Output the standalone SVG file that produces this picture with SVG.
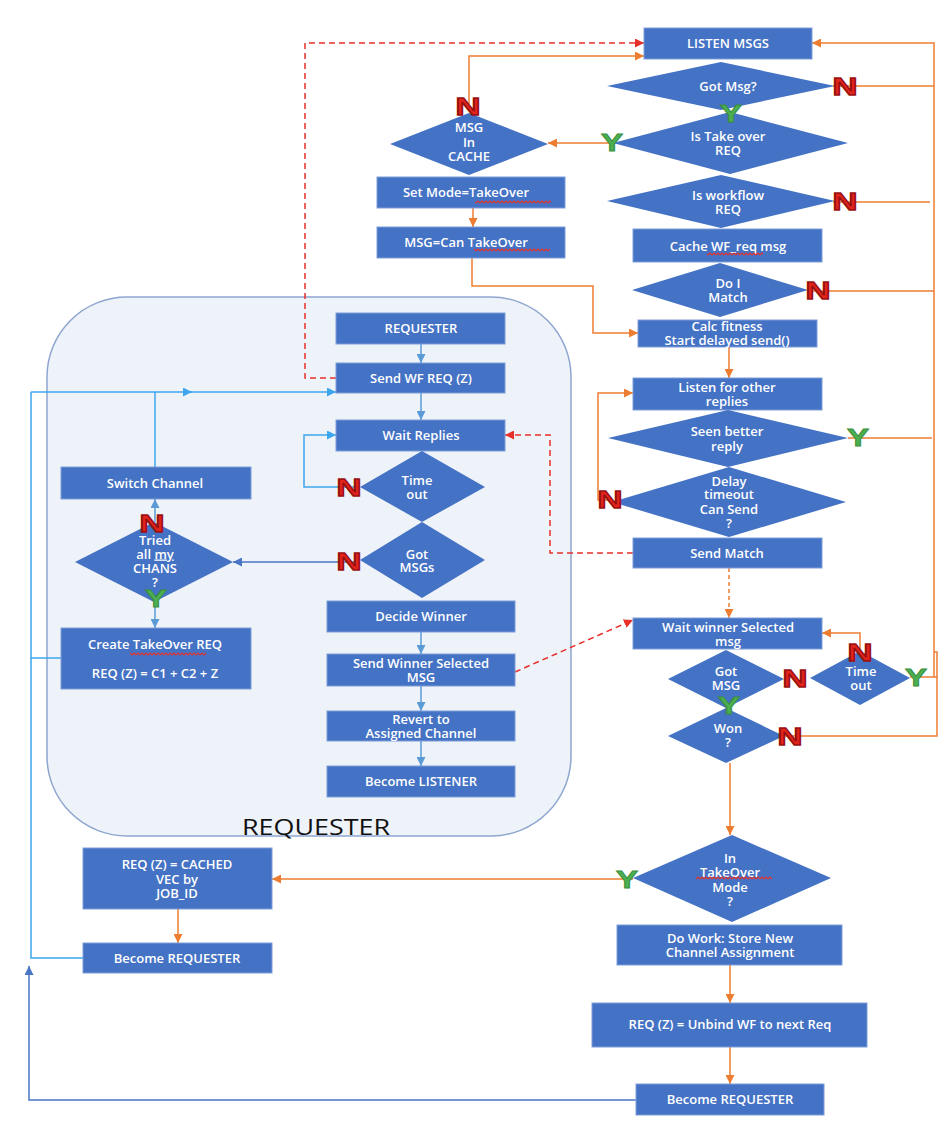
<svg xmlns="http://www.w3.org/2000/svg" width="943" height="1135" viewBox="0 0 943 1135">
<defs>
<style>
.box{fill:#4472c4;stroke:#7f9ed8;stroke-width:1}
.dia{fill:#4472c4}
.t{font-family:"Open Sans","Liberation Sans",sans-serif;font-weight:600;font-size:13px;fill:#ffffff;text-anchor:middle}
.c{fill:none;stroke-width:1.5}
.or{stroke:#ed7d31}
.rd{stroke:#e8302a;stroke-dasharray:6 4}
.od{stroke:#ed7d31;stroke-dasharray:4 3}
.lb{stroke:#3ea6ec}
.sb{stroke:#5b9bd5}
.db{stroke:#4a74c4}
.N{font-family:"Liberation Sans",sans-serif;font-weight:bold;font-size:24px;fill:#e3241b;stroke:#981010;stroke-width:1.3;text-anchor:middle}
.Y{font-family:"Liberation Sans",sans-serif;font-weight:bold;font-size:24px;fill:#4caf50;stroke:#3b8f3e;stroke-width:0.9;text-anchor:middle}
.sq{fill:url(#wave)}
</style>
<pattern id="wave" patternUnits="userSpaceOnUse" x="0" y="0" width="4" height="4"><path d="M0 3 L2 1 L4 3" fill="none" stroke="#e8302a" stroke-width="1.1"/></pattern>
<marker id="ao" viewBox="0 0 10 10" refX="10" refY="5" markerWidth="9" markerHeight="9" markerUnits="userSpaceOnUse" orient="auto"><path d="M0 0 L10 5 L0 10 z" fill="#ed7d31"/></marker>
<marker id="ar" viewBox="0 0 10 10" refX="10" refY="5" markerWidth="9" markerHeight="9" markerUnits="userSpaceOnUse" orient="auto"><path d="M0 0 L10 5 L0 10 z" fill="#e8302a"/></marker>
<marker id="alb" viewBox="0 0 10 10" refX="10" refY="5" markerWidth="9" markerHeight="9" markerUnits="userSpaceOnUse" orient="auto"><path d="M0 0 L10 5 L0 10 z" fill="#3ea6ec"/></marker>
<marker id="asb" viewBox="0 0 10 10" refX="10" refY="5" markerWidth="9" markerHeight="9" markerUnits="userSpaceOnUse" orient="auto"><path d="M0 0 L10 5 L0 10 z" fill="#5b9bd5"/></marker>
<marker id="adb" viewBox="0 0 10 10" refX="10" refY="5" markerWidth="9" markerHeight="9" markerUnits="userSpaceOnUse" orient="auto"><path d="M0 0 L10 5 L0 10 z" fill="#4a74c4"/></marker>
</defs>
<rect width="943" height="1135" fill="#ffffff"/>

<g id="requester-container">
<rect x="47" y="297" width="524" height="539" rx="80" ry="80" fill="#eef2f9" stroke="#8ea6cf" stroke-width="1.5"/>
<text x="316" y="835" font-family="'Open Sans','Liberation Sans',sans-serif" font-size="21" fill="#111" text-anchor="middle" textLength="148" lengthAdjust="spacingAndGlyphs">REQUESTER</text>
</g>

<g id="connectors">
<path class="c rd" d="M336 378 H305 V43 H644" marker-end="url(#ar)"/>
<path class="c rd" d="M633 553 H550 V435 H505" marker-end="url(#ar)"/>
<path class="c rd" d="M515 672 L633 620" marker-end="url(#ar)"/>
<path class="c or" d="M469 104 V56 H644" marker-end="url(#ao)"/>
<path class="c or" d="M934 677 V43 H812" marker-end="url(#ao)"/>
<path class="c or" d="M833 86 H934"/>
<path class="c or" d="M833 202 H930"/>
<path class="c or" d="M808 291 H934"/>
<path class="c or" d="M848 438 H932"/>
<path class="c or" d="M910 677 H937"/>
<path class="c or" d="M934 652 H937 V736 H784"/>
<path class="c or" d="M613 143 H548" marker-end="url(#ao)"/>
<path class="c or" d="M473 208 V227" marker-end="url(#ao)"/>
<path class="c or" d="M472 258 V286 H593 V333 H638" marker-end="url(#ao)"/>
<path class="c or" d="M729 347 V378" marker-end="url(#ao)"/>
<path class="c or" d="M612 500 H598 V393 H633" marker-end="url(#ao)"/>
<path class="c od" d="M729 568 V618" marker-end="url(#ao)"/>
<path class="c or" d="M860 651 V633 H822" marker-end="url(#ao)"/>
<path class="c or" d="M730 763 V835" marker-end="url(#ao)"/>
<path class="c or" d="M633 879 H272" marker-end="url(#ao)"/>
<path class="c or" d="M730 965 V1003" marker-end="url(#ao)"/>
<path class="c or" d="M730 1047 V1084" marker-end="url(#ao)"/>
<path class="c or" d="M178 909 V943" marker-end="url(#ao)"/>
<path class="c sb" d="M421 344 V363" marker-end="url(#asb)"/>
<path class="c sb" d="M421 393 V420" marker-end="url(#asb)"/>
<path class="c sb" d="M421 632 V654" marker-end="url(#asb)"/>
<path class="c sb" d="M421 686 V711" marker-end="url(#asb)"/>
<path class="c sb" d="M421 741 V766" marker-end="url(#asb)"/>
<path class="c lb" d="M360 487 H304 V435 H336" marker-end="url(#alb)"/>
<path class="c db" d="M360 562 H233" marker-end="url(#adb)"/>
<path class="c sb" d="M155 522 V499" marker-end="url(#asb)"/>
<path class="c sb" d="M155 602 V628" marker-end="url(#asb)"/>
<path class="c lb" d="M155 467 V392"/>
<path class="c lb" d="M31 392 H192" marker-end="url(#alb)"/>
<path class="c lb" d="M190 392 H336" marker-end="url(#alb)"/>
<path class="c lb" d="M31 392 V958 H83"/>
<path class="c lb" d="M61 658 H31"/>
<path class="c db" d="M636 1100 H29 V966" marker-end="url(#adb)"/>
</g>

<g id="listen-msgs"><rect class="box" x="644" y="28" width="168" height="31"/><text class="t" x="728" y="48">LISTEN MSGS</text></g>
<g id="got-msg"><polygon class="dia" points="607,86 721,62 835,86 721,110"/><text class="t" x="728" y="90.5">Got Msg?</text></g>
<g id="is-takeover"><polygon class="dia" points="613,143 730,112 848,143 730,174"/><text class="t" x="728" y="140.5">Is Take over</text><text class="t" x="728" y="154.5">REQ</text></g>
<g id="msg-in-cache"><polygon class="dia" points="390,144 469,113 548,144 469,175"/><text class="t" x="469" y="131.5">MSG</text><text class="t" x="469" y="146.5">In</text><text class="t" x="469" y="160.5">CACHE</text></g>
<g id="set-mode"><rect class="box" x="377" y="177" width="188" height="31"/><text class="t" x="466" y="197">Set Mode=TakeOver</text><rect class="sq" x="475" y="200" width="76" height="4"/></g>
<g id="msg-can-takeover"><rect class="box" x="377" y="227" width="188" height="31"/><text class="t" x="466" y="247">MSG=Can TakeOver</text><rect class="sq" x="474" y="248" width="76" height="4"/></g>
<g id="is-workflow"><polygon class="dia" points="607,201 721,175 835,201 721,228"/><text class="t" x="728" y="199.5">Is workflow</text><text class="t" x="728" y="213.5">REQ</text></g>
<g id="cache-wf"><rect class="box" x="633" y="229" width="189" height="33"/><text class="t" x="728" y="250.5">Cache WF_req msg</text><rect class="sq" x="707" y="252" width="56" height="4"/></g>
<g id="do-i-match"><polygon class="dia" points="632,290 720,263 808,290 720,317"/><text class="t" x="728" y="287.5">Do I</text><text class="t" x="728" y="301.5">Match</text></g>
<g id="calc-fitness"><rect class="box" x="638" y="320" width="179" height="27"/><text class="t" x="727" y="330.5">Calc fitness</text><text class="t" x="727" y="344.5">Start delayed send()</text></g>
<g id="listen-other"><rect class="box" x="633" y="378" width="189" height="32"/><text class="t" x="727" y="391.5">Listen for other</text><text class="t" x="727" y="405.5">replies</text></g>
<g id="seen-better"><polygon class="dia" points="608,438 728,410 848,438 728,467"/><text class="t" x="727" y="435.5">Seen better</text><text class="t" x="727" y="450.5">reply</text></g>
<g id="delay-timeout"><polygon class="dia" points="612,502 729,467 846,502 729,537"/><text class="t" x="729" y="485.5">Delay</text><text class="t" x="729" y="499">timeout</text><text class="t" x="729" y="513.5">Can Send</text><text class="t" x="729" y="527.5">?</text></g>
<g id="send-match"><rect class="box" x="633" y="538" width="189" height="30"/><text class="t" x="727" y="557.5">Send Match</text></g>
<g id="wait-winner"><rect class="box" x="633" y="618" width="189" height="31"/><text class="t" x="728" y="631.5">Wait winner Selected</text><text class="t" x="728" y="645.5">msg</text></g>
<g id="got-msg-2"><polygon class="dia" points="668,679 726,650 784,679 726,708"/><text class="t" x="726" y="675.5">Got</text><text class="t" x="726" y="689.5">MSG</text></g>
<g id="time-out-2"><polygon class="dia" points="810,678 860,651 910,678 860,705"/><text class="t" x="861" y="675.5">Time</text><text class="t" x="861" y="689.5">out</text></g>
<g id="won"><polygon class="dia" points="668,736 726,708 784,736 726,763"/><text class="t" x="728" y="732.5">Won</text><text class="t" x="728" y="746.5">?</text></g>
<g id="in-takeover-mode"><polygon class="dia" points="633,878 732,835 831,878 732,922"/><text class="t" x="730" y="862.5">In</text><text class="t" x="730" y="876.5">TakeOver</text><rect class="sq" x="696" y="876" width="76" height="4"/><text class="t" x="730" y="891.5">Mode</text><text class="t" x="730" y="905.5">?</text></g>
<g id="do-work"><rect class="box" x="617" y="925" width="225" height="40"/><text class="t" x="730" y="942.5">Do Work: Store New</text><text class="t" x="730" y="956.5">Channel Assignment</text></g>
<g id="unbind"><rect class="box" x="592" y="1003" width="275" height="44"/><text class="t" x="730" y="1028.5">REQ (Z) = Unbind WF to next Req</text></g>
<g id="become-requester-r"><rect class="box" x="636" y="1084" width="188" height="31"/><text class="t" x="730" y="1103.5">Become REQUESTER</text></g>

<g id="requester"><rect class="box" x="336" y="313" width="169" height="31"/><text class="t" x="421" y="332.5">REQUESTER</text></g>
<g id="send-wf-req"><rect class="box" x="336" y="363" width="169" height="30"/><text class="t" x="421" y="382.5">Send WF REQ (Z)</text></g>
<g id="wait-replies"><rect class="box" x="336" y="420" width="169" height="31"/><text class="t" x="421" y="439.5">Wait Replies</text></g>
<g id="time-out-1"><polygon class="dia" points="360,487 422,451 485,487 422,522"/><text class="t" x="417" y="484.5">Time</text><text class="t" x="417" y="498.5">out</text></g>
<g id="got-msgs"><polygon class="dia" points="360,560 422,522 485,560 422,598"/><text class="t" x="417" y="558.5">Got</text><text class="t" x="417" y="572">MSGs</text></g>
<g id="decide-winner"><rect class="box" x="327" y="601" width="188" height="31"/><text class="t" x="421" y="620.5">Decide Winner</text></g>
<g id="send-winner"><rect class="box" x="327" y="654" width="188" height="32"/><text class="t" x="421" y="667.5">Send Winner Selected</text><text class="t" x="421" y="681.5">MSG</text></g>
<g id="revert"><rect class="box" x="327" y="711" width="188" height="30"/><text class="t" x="421" y="723.5">Revert to</text><text class="t" x="421" y="737.5">Assigned Channel</text></g>
<g id="become-listener"><rect class="box" x="327" y="766" width="188" height="31"/><text class="t" x="421" y="785.5">Become LISTENER</text></g>
<g id="switch-channel"><rect class="box" x="61" y="467" width="190" height="32"/><text class="t" x="155" y="487.5">Switch Channel</text></g>
<g id="tried-all"><polygon class="dia" points="75,562 154,522 233,562 154,602"/><text class="t" x="155" y="544.5">Tried</text><text class="t" x="155" y="558.5">all <tspan text-decoration="underline">my</tspan></text><text class="t" x="155" y="572.5">CHANS</text><text class="t" x="155" y="586.5">?</text></g>
<g id="create-takeover"><rect class="box" x="61" y="628" width="190" height="61"/><text class="t" x="155" y="648.5">Create TakeOver REQ</text><rect class="sq" x="130" y="652" width="76" height="4"/><text class="t" x="155" y="677.5">REQ (Z) = C1 + C2 + Z</text></g>
<g id="req-cached"><rect class="box" x="83" y="848" width="189" height="61"/><text class="t" x="177" y="868.5">REQ (Z) = CACHED</text><text class="t" x="177" y="883.5">VEC by</text><text class="t" x="177" y="897.5">JOB_ID</text></g>
<g id="become-requester-l"><rect class="box" x="83" y="943" width="189" height="30"/><text class="t" x="177" y="962.5">Become REQUESTER</text></g>

<g id="labels">
<text class="N" x="468" y="115" textLength="25" lengthAdjust="spacingAndGlyphs">N</text>
<text class="Y" x="612" y="151" textLength="22" lengthAdjust="spacingAndGlyphs">Y</text>
<text class="N" x="845" y="95" textLength="25" lengthAdjust="spacingAndGlyphs">N</text>
<text class="Y" x="731" y="122" textLength="22" lengthAdjust="spacingAndGlyphs">Y</text>
<text class="N" x="845" y="210" textLength="25" lengthAdjust="spacingAndGlyphs">N</text>
<text class="N" x="818" y="299" textLength="25" lengthAdjust="spacingAndGlyphs">N</text>
<text class="Y" x="858" y="446" textLength="22" lengthAdjust="spacingAndGlyphs">Y</text>
<text class="N" x="610" y="508" textLength="25" lengthAdjust="spacingAndGlyphs">N</text>
<text class="N" x="860" y="661" textLength="25" lengthAdjust="spacingAndGlyphs">N</text>
<text class="N" x="795" y="687" textLength="25" lengthAdjust="spacingAndGlyphs">N</text>
<text class="Y" x="916" y="686" textLength="22" lengthAdjust="spacingAndGlyphs">Y</text>
<text class="Y" x="729" y="714" textLength="22" lengthAdjust="spacingAndGlyphs">Y</text>
<text class="N" x="790" y="745" textLength="25" lengthAdjust="spacingAndGlyphs">N</text>
<text class="Y" x="627" y="888" textLength="22" lengthAdjust="spacingAndGlyphs">Y</text>
<text class="N" x="349" y="496" textLength="25" lengthAdjust="spacingAndGlyphs">N</text>
<text class="N" x="349" y="570" textLength="25" lengthAdjust="spacingAndGlyphs">N</text>
<text class="N" x="152" y="532" textLength="25" lengthAdjust="spacingAndGlyphs">N</text>
<text class="Y" x="156" y="607" textLength="22" lengthAdjust="spacingAndGlyphs">Y</text>
</g>
</svg>
